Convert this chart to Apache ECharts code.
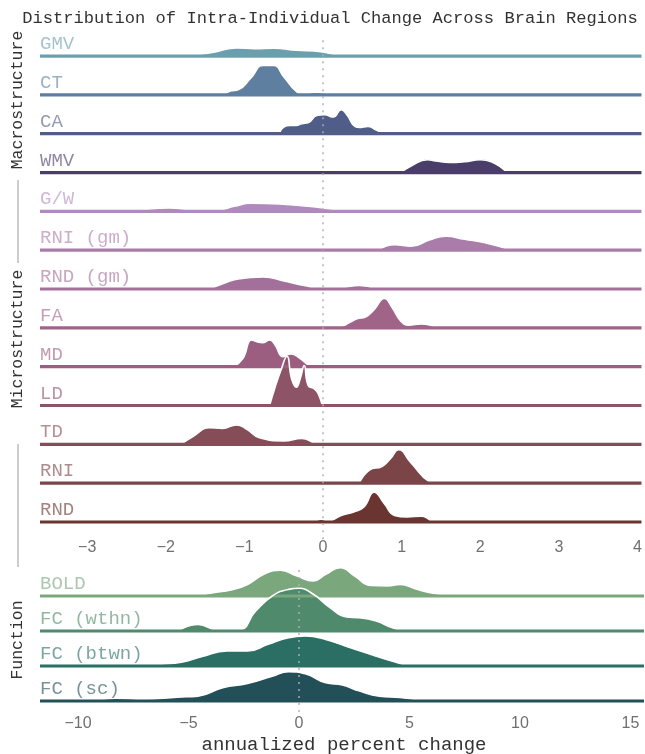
<!DOCTYPE html>
<html>
<head>
<meta charset="utf-8">
<script src="https://cdn.jsdelivr.net/npm/echarts@6/dist/echarts.min.js"></script>
<style>
  html, body { margin: 0; padding: 0; background: #ffffff; }
  #chart { width: 645px; height: 754px; }
</style>
</head>
<body>
<div id="chart"></div>
<script>
// Row names and colours, top panel (structure) and bottom panel (function)
const topRowNames = ['GMV', 'CT', 'CA', 'WMV', 'G/W', 'RNI (gm)', 'RND (gm)', 'FA', 'MD', 'LD', 'TD', 'RNI', 'RND'];
const topRowColors = ['#6b9fae', '#5e7f9f', '#4f5d88', '#4a3d6a', '#b08abc', '#a97ca9', '#a36f9b',
                      '#9f6487', '#9b5d80', '#8d5467', '#854d58', '#7b4548', '#6a3530'];
const bottomRowNames = ['BOLD', 'FC (wthn)', 'FC (btwn)', 'FC (sc)'];
const bottomRowColors = ['#7aa77c', '#4f8a6c', '#2b6e64', '#224f58'];

const topTicks = [-3, -2, -1, 0, 1, 2, 3, 4];
const bottomTicks = [-10, -5, 0, 5, 10, 15];

// Density curves: [annualized % change, height in row units]
const densGMV = [[-1.81,0],[-1.6,0.04],[-1.39,0.10],[-1.10,0.21],[-0.87,0.19],[-0.63,0.20],[-0.34,0.15],[-0.03,0.11],[0.23,0.02],[0.44,0.01],[0.62,0.04],[0.80,0]];
const densCT = [[-1.26,0],[-1.18,0.10],[-1.08,0.13],[-0.92,0.43],[-0.76,0.76],[-0.63,0.76],[-0.50,0.47],[-0.34,0.09],[-0.24,0.02],[-0.11,0.07],[0.07,0.03],[0.13,0]];
const densCA = [[-0.56,0],[-0.50,0.17],[-0.42,0.21],[-0.34,0.21],[-0.27,0.26],[-0.19,0.28],[-0.08,0.47],[0.02,0.49],[0.13,0.43],[0.23,0.62],[0.31,0.47],[0.39,0.21],[0.46,0.16],[0.57,0.19],[0.67,0.10],[0.78,0]];
const densWMV = [[0.99,0],[1.12,0.17],[1.33,0.33],[1.43,0.30],[1.61,0.26],[1.80,0.28],[2.00,0.33],[2.14,0.28],[2.34,0]];
const densGW = [[-2.65,0],[-2.38,0.03],[-1.96,0.09],[-1.60,0.04],[-1.34,0.04],[-1.13,0.13],[-0.92,0.21],[-0.55,0.19],[-0.19,0.13],[0.07,0.07],[0.33,0]];
const densRNIgm = [[0.70,0],[0.91,0.14],[1.12,0.10],[1.35,0.26],[1.56,0.36],[1.80,0.28],[2.06,0.19],[2.40,0]];
const densRNDgm = [[-1.44,0],[-1.26,0.15],[-1.08,0.26],[-0.76,0.31],[-0.50,0.21],[-0.24,0.09],[-0.03,0.02],[0.23,0.04],[0.46,0.09],[0.67,0]];
const densFA = [[-0.21,0],[-0.14,0.04],[0.23,0.04],[0.33,0.13],[0.44,0.24],[0.54,0.28],[0.65,0.47],[0.78,0.76],[0.88,0.52],[0.99,0.17],[1.09,0.07],[1.25,0.10],[1.46,0]];
const densMD = [[-1.14,0],[-1.02,0.21],[-0.91,0.69],[-0.84,0.64],[-0.76,0.62],[-0.68,0.69],[-0.61,0.56],[-0.51,0.26],[-0.41,0.33],[-0.29,0.21],[-0.19,0.04],[-0.16,0]];
const densLD = [[-0.68,0],[-0.61,0.47],[-0.53,0.94],[-0.46,1.27],[-0.40,0.69],[-0.34,0.47],[-0.29,0.69],[-0.24,1.03],[-0.19,0.52],[-0.11,0.43],[-0.06,0.30],[-0.01,0]];
const densTD = [[-1.81,0],[-1.65,0.21],[-1.44,0.43],[-1.28,0.41],[-1.10,0.50],[-0.97,0.39],[-0.81,0.17],[-0.50,0.09],[-0.27,0.15],[-0.11,0.03],[-0.08,0]];
const densRNI = [[0.46,0],[0.59,0.34],[0.75,0.43],[0.86,0.64],[0.96,0.86],[1.12,0.52],[1.35,0.04],[1.43,0],[1.90,0],[2.01,0.05],[2.11,0]];
const densRND = [[-0.11,0],[-0.03,0.07],[0.07,0.03],[0.23,0.17],[0.39,0.26],[0.52,0.39],[0.65,0.77],[0.78,0.47],[0.91,0.17],[1.07,0.13],[1.25,0.15],[1.38,0]];

const densBOLD = [[-4.57,0],[-3.82,0.10],[-3.08,0.17],[-2.33,0.33],[-1.59,0.62],[-0.84,0.74],[-0.09,0.57],[0.65,0.43],[1.21,0.62],[1.87,0.81],[2.52,0.57],[3.26,0.30],[4.01,0.29],[4.57,0.33],[5.32,0.19],[6.06,0.08],[6.99,0]];
const densFCwthn = [[-5.50,0],[-4.57,0.19],[-3.64,0.02],[-2.71,0.03],[-1.96,0.57],[-1.21,1.0],[-0.47,1.19],[0,1.22],[0.65,1.05],[1.40,0.67],[2.15,0.40],[2.71,0.38],[3.45,0.29],[4.20,0.10],[4.66,0]];
const densFCbtwn = [[-7.37,0],[-6.25,0.05],[-5.32,0.11],[-4.38,0.27],[-3.26,0.43],[-2.33,0.43],[-1.40,0.62],[-0.47,0.81],[0.28,0.86],[1.21,0.76],[2.33,0.52],[3.26,0.33],[4.20,0.14],[4.94,0]];
const densFCsc = [[-9.24,0],[-8.30,0.08],[-7.00,0.05],[-5.50,0.11],[-4.57,0.14],[-3.45,0.38],[-2.33,0.50],[-1.21,0.71],[-0.47,0.84],[0.28,0.78],[1.21,0.52],[1.96,0.46],[2.71,0.29],[3.64,0.14],[4.57,0.10],[5.69,0]];

const topDensities = [densGMV, densCT, densCA, densWMV, densGW, densRNIgm, densRNDgm, densFA, densMD, densLD, densTD, densRNI, densRND];
const bottomDensities = [densBOLD, densFCwthn, densFCbtwn, densFCsc];

// Axis extents
const topRange = [-3.6, 4.05];
const bottomRange = [-11.72, 15.61];

const MONO = "'Courier New', 'Liberation Mono', monospace";
const SANS = "'Liberation Sans', Arial, sans-serif";

function withAlpha(hex, a) {
  const n = parseInt(hex.slice(1), 16);
  return 'rgba(' + ((n >> 16) & 255) + ',' + ((n >> 8) & 255) + ',' + (n & 255) + ',' + a + ')';
}

function ridgeSeries(axisIdx, names, colors, dens, range) {
  const n = names.length;
  const out = [];
  names.forEach(function (name, i) {
    const base = n - 1 - i;
    out.push({
      name: name,
      type: 'line',
      xAxisIndex: axisIdx,
      yAxisIndex: axisIdx,
      data: dens[i].map(function (p) { return [p[0], base + p[1]]; }),
      smooth: 0.5,
      symbol: 'none',
      clip: false,
      silent: true,
      lineStyle: { color: '#ffffff', width: 1.6 },
      areaStyle: { color: colors[i], opacity: 1, origin: base }
    });
    out.push({
      type: 'line',
      xAxisIndex: axisIdx,
      yAxisIndex: axisIdx,
      data: [[range[0], base], [range[1], base]],
      symbol: 'none',
      clip: false,
      silent: true,
      lineStyle: { color: colors[i], width: 3.2 }
    });
  });
  return out;
}

function zeroLine(axisIdx, y0, y1) {
  return {
    type: 'line',
    xAxisIndex: axisIdx,
    yAxisIndex: axisIdx,
    data: [[0, y0], [0, y1]],
    symbol: 'none',
    clip: false,
    silent: true,
    z: 10,
    lineStyle: { color: 'rgba(175,175,175,0.95)', width: 1.5, type: [2, 5] }
  };
}

function minusFmt(v) { return String(v).replace('-', '\u2212'); }

const chart = echarts.init(document.getElementById('chart'), null, { renderer: 'canvas' });

const series = []
  .concat(ridgeSeries(0, topRowNames, topRowColors, topDensities, topRange))
  .concat([zeroLine(0, 12.41, -0.46)])
  .concat(ridgeSeries(1, bottomRowNames, bottomRowColors, bottomDensities, bottomRange))
  .concat([zeroLine(1, 3.74, -0.4)]);

function xAxisFor(gridIdx, range, ticks, margin) {
  return {
    type: 'value',
    gridIndex: gridIdx,
    min: range[0],
    max: range[1],
    axisLine: { show: false },
    axisTick: { show: false },
    splitLine: { show: false },
    axisLabel: {
      customValues: ticks,
      formatter: minusFmt,
      margin: margin,
      color: '#707070',
      fontFamily: SANS,
      fontSize: 16
    }
  };
}

function yAxisFor(gridIdx, min, max) {
  return {
    type: 'value', gridIndex: gridIdx, min: min, max: max,
    axisLine: { show: false }, axisTick: { show: false },
    axisLabel: { show: false }, splitLine: { show: false }
  };
}

chart.setOption({
  animation: false,
  backgroundColor: '#ffffff',
  grid: [
    { left: 40, right: 1, top: 21.1, bottom: 220.35 },
    { left: 40, right: 1, top: 564.5, bottom: 42.5 }
  ],
  xAxis: [
    xAxisFor(0, topRange, topTicks, 6),
    xAxisFor(1, bottomRange, bottomTicks, 4)
  ],
  yAxis: [
    yAxisFor(0, -0.3, 12.9),
    yAxisFor(1, -0.3, 3.9)
  ],
  series: series
});

// Text: title, row names, group labels and brackets, axis name
const graphics = [];
graphics.push({
  type: 'text', x: 330, y: 18,
  style: { text: 'Distribution of Intra-Individual Change Across Brain Regions', font: '17.1px ' + MONO, fill: '#333333', align: 'center', verticalAlign: 'middle' }
});

function addRowLabels(gridIdx, names, colors, range) {
  const n = names.length;
  names.forEach(function (name, i) {
    const p = chart.convertToPixel({ gridIndex: gridIdx }, [range[0], n - 1 - i]);
    graphics.push({
      type: 'text', x: p[0], y: p[1] - 12, z: 5,
      style: { text: name, font: '19px ' + MONO, fill: withAlpha(colors[i], 0.62), verticalAlign: 'middle', align: 'left' }
    });
  });
}
addRowLabels(0, topRowNames, topRowColors, topRange);
addRowLabels(1, bottomRowNames, bottomRowColors, bottomRange);

const groupLabels = [['Macrostructure', 100], ['Microstructure', 339], ['Function', 640]];
groupLabels.forEach(function (g) {
  graphics.push({
    type: 'text', x: 18, y: g[1], rotation: Math.PI / 2,
    style: { text: g[0], font: '16.5px ' + MONO, fill: '#333333', align: 'center', verticalAlign: 'middle' }
  });
});
[[180, 263], [444, 567]].forEach(function (s) {
  graphics.push({
    type: 'line', shape: { x1: 18, y1: s[0], x2: 18, y2: s[1] },
    style: { stroke: '#9a9a9a', lineWidth: 1 }
  });
});
graphics.push({
  type: 'text', x: 344, y: 745,
  style: { text: 'annualized percent change', font: '19px ' + MONO, fill: '#333333', align: 'center', verticalAlign: 'middle' }
});

chart.setOption({ graphic: graphics });
</script>
</body>
</html>
